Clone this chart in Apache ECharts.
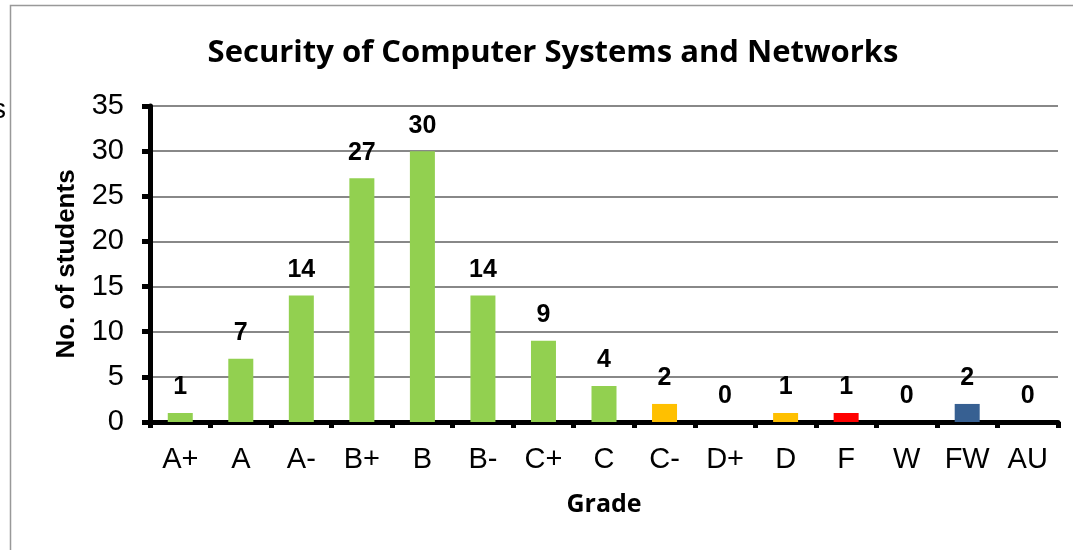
<!DOCTYPE html>
<html>
<head>
<meta charset="utf-8">
<script src="https://cdn.jsdelivr.net/npm/echarts@6/dist/echarts.min.js"></script>
<style>
  html, body { margin: 0; padding: 0; background: #fff; }
  #chart { width: 1073px; height: 550px; }
</style>
</head>
<body>
<div id="chart"></div>
<script>
const grades = ['A+', 'A', 'A-', 'B+', 'B', 'B-', 'C+', 'C', 'C-', 'D+', 'D', 'F', 'W', 'FW', 'AU'];
const students = [1, 7, 14, 27, 30, 14, 9, 4, 2, 0, 1, 1, 0, 2, 0];
const barColors = ['#92D050', '#92D050', '#92D050', '#92D050', '#92D050', '#92D050', '#92D050', '#92D050',
  '#FFC000', '#FFC000', '#FFC000', '#FF0000', '#376092', '#376092', '#376092'];

const chart = echarts.init(document.getElementById('chart'));

chart.setOption({
  animation: false,
  title: {
    text: 'Security of Computer Systems and Networks',
    left: 548, top: 33, textAlign: 'center',
    textStyle: { fontFamily: 'Open Sans', fontWeight: 'bold', fontSize: 31, color: '#000' }
  },
  graphic: [
    { type: 'rect', shape: { x: 10.5, y: 5.5, width: 1100, height: 600 },
      style: { fill: 'none', stroke: '#999', lineWidth: 1.5 } },
    { type: 'text', left: -8, top: 96, style: { text: 's', fontFamily: 'Liberation Sans', fontSize: 28, fill: '#000' } }
  ],
  grid: { left: 150, right: 15, top: 106, bottom: 128 },
  xAxis: {
    type: 'category',
    data: grades,
    name: 'Grade',
    nameLocation: 'middle',
    nameGap: 70,
    nameTextStyle: { fontFamily: 'Open Sans', fontWeight: 'bold', fontSize: 25, color: '#000' },
    axisLine: { lineStyle: { color: '#000', width: 5 } },
    axisTick: { show: true, length: 6, lineStyle: { color: '#000', width: 5 } },
    axisLabel: { margin: 23, fontFamily: 'Liberation Sans', fontSize: 29, color: '#000' }
  },
  yAxis: {
    type: 'value',
    min: 0, max: 35, interval: 5,
    name: 'No. of students',
    nameLocation: 'middle',
    nameGap: 70,
    nameTextStyle: { fontFamily: 'Liberation Sans', fontWeight: 'bold', fontSize: 26, color: '#000' },
    axisLine: { show: true, lineStyle: { color: '#000', width: 5 } },
    axisTick: { show: true, length: 8, lineStyle: { color: '#000', width: 5 } },
    axisLabel: { margin: 26, fontFamily: 'Liberation Sans', fontSize: 29, color: '#000' },
    splitLine: { lineStyle: { color: '#888', width: 2 } }
  },
  series: [{
    type: 'bar',
    barWidth: 25,
    data: students.map((v, i) => ({ value: v, itemStyle: { color: barColors[i] } })),
    label: {
      show: true, position: 'top', distance: 13,
      fontFamily: 'Liberation Sans', fontWeight: 'bold', fontSize: 25, color: '#000'
    }
  }]
});
</script>
</body>
</html>
